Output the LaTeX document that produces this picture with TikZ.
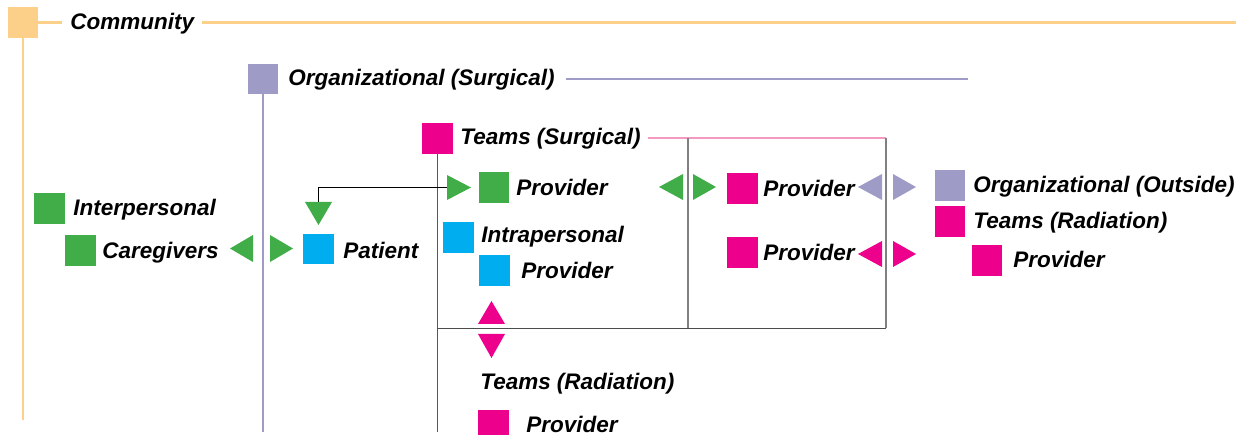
\documentclass[tikz,border=0pt]{standalone}
\usepackage{fontspec}
\setmainfont{Liberation Sans}
\definecolor{commorange}{RGB}{253,208,138}
\definecolor{orgpurple}{RGB}{158,155,199}
\definecolor{teammagenta}{RGB}{236,0,140}
\definecolor{teampink}{RGB}{244,154,193}
\definecolor{indgreen}{RGB}{64,173,72}
\definecolor{patblue}{RGB}{0,174,239}
\tikzset{
  box/.style={minimum size=0.61cm, inner sep=0pt, outer sep=0pt},
  lbl/.style={anchor=base west, inner sep=0pt, font=\fontsize{12.8}{15}\selectfont\bfseries\itshape},
}
\begin{document}
\begin{tikzpicture}[x=0.02cm, y=-0.02cm]
        \useasboundingbox (0,0) rectangle (1248,435);
        % levels
        \node[box, fill=commorange] (com) at (23,22.5) {};
        \node[lbl] (comtxt) at (70,29.5) {Community};
        \node[box, fill=orgpurple] (org) at (263,79) {};
        \node[lbl] (orgtxt) at (288,86) {Organizational (Surgical)};
        \node[box, fill=teammagenta] (teams) at (437.5,138.5) {};
        \node[lbl] (teamstxt) at (460,145) {Teams (Surgical)};
        \draw[commorange, line width=1.8pt] (com.east) -- ++(24,0);
        \draw[commorange, line width=1.8pt] (202,22.5) -- (1236,22.5);
        \draw[commorange, line width=1.5pt] (com.south) -- ++(0,382);
        \draw[orgpurple, line width=1.6pt] (566,79) -- (968,79);
        \draw[orgpurple, line width=1.2pt] (org.south) -- ++(0,338);
        \draw[teampink, line width=1.7pt] (648,138) -- (886,138);
        \draw[teammagenta, line width=0.7pt] (teams.south) -- ++(0,278);
        \draw[gray, line width=0.9pt] (688,138) -- (688,328.5);
        \draw[gray, line width=0.9pt] (886,138) -- (886,328.5);
        \draw[black!70, line width=0.9pt] (437.5,328.5) -- (886,328.5);
        % left side
        \node[box, fill=indgreen] (interp) at (49.5,208.5) {};
        \node[lbl] at (73,216) {Interpersonal};
        \node[box, fill=indgreen] (care) at (80.5,250.5) {};
        \node[lbl] at (102,259) {Caregivers};
        \node[box, fill=patblue] (pat) at (318.5,249) {};
        \node[lbl] at (343,259) {Patient};
        % surgical team
        \node[box, fill=indgreen] (gprov) at (494,187.5) {};
        \node[lbl] at (516,196) {Provider};
        \node[box, fill=patblue] (intra) at (458.5,237.5) {};
        \node[lbl] at (481,243) {Intrapersonal};
        \node[box, fill=patblue] (bprov) at (494.5,270.5) {};
        \node[lbl] at (521,279) {Provider};
        \node[box, fill=teammagenta] (mprova) at (742.5,188.5) {};
        \node[lbl] at (763,197) {Provider};
        \node[box, fill=teammagenta] (mprovb) at (742.5,252.5) {};
        \node[lbl] at (763,261) {Provider};
        % outside
        \node[box, fill=orgpurple] (orgout) at (950,185.5) {};
        \node[lbl] at (973,193) {Organizational (Outside)};
        \node[box, fill=teammagenta] (radr) at (950,221.5) {};
        \node[lbl] at (973,229) {Teams (Radiation)};
        \node[box, fill=teammagenta] (radrprov) at (987,260.5) {};
        \node[lbl] at (1013,268) {Provider};
        % radiation below
        \node[lbl] (radb) at (480,390) {Teams (Radiation)};
        \node[box, fill=teammagenta] (radbprov) at (493.5,425) {};
        \node[lbl] at (526,432.5) {Provider};
        % patient link
        \coordinate (gtri) at (447,187.5);
        \coordinate (ptri) at (318.5,202);
        \draw[black, line width=0.6pt] (gtri) -- (ptri |- gtri) -- (ptri);
        % arrows
        \fill[indgreen] (447,175) -- (471,187.5) -- (447,200) -- cycle;
        \fill[indgreen] (305,202) -- (332,202) -- (318.5,225) -- cycle;
        \fill[indgreen] (253,235) -- (230,248.5) -- (253,262) -- cycle;
        \fill[indgreen] (270,235) -- (293,248.5) -- (270,262) -- cycle;
        \fill[indgreen] (683,174) -- (659,187) -- (683,200) -- cycle;
        \fill[indgreen] (693,174) -- (716,187) -- (693,200) -- cycle;
        \fill[orgpurple] (882,174) -- (858,187) -- (882,200) -- cycle;
        \fill[orgpurple] (893,174) -- (916,187) -- (893,200) -- cycle;
        \fill[teammagenta] (882,241) -- (858,254) -- (882,267) -- cycle;
        \fill[teammagenta] (893,241) -- (916,254) -- (893,267) -- cycle;
        \fill[teammagenta] (478,324) -- (491.5,301) -- (505,324) -- cycle;
        \fill[teammagenta] (478,334) -- (491.5,358) -- (505,334) -- cycle;
\end{tikzpicture}
\end{document}
